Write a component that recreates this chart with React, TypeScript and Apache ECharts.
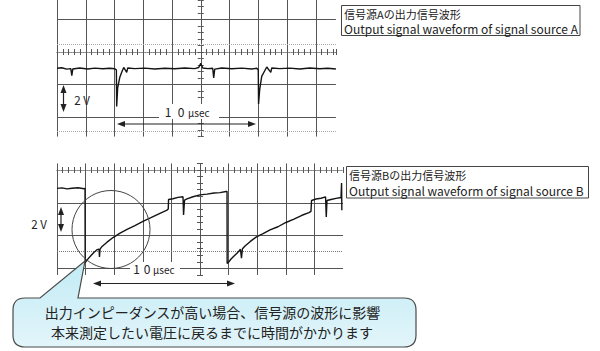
import React, { useEffect, useRef } from "react";
import * as echarts from "echarts";

// Time in µs relative to the screen centre (2 µs/div); voltage in V relative to the centre line (2 V/div)
const traceA: [number, number][] = [
  [-10, -1.0], [-9.67, -0.97], [-9.32, -1.05], [-9.04, -1.02], [-8.97, -1.45], [-8.9, -1.04],
  [-8.42, -0.98], [-7.86, -1.04], [-7.37, -0.99], [-6.82, -1.03], [-6.33, -1.0], [-5.98, -1.03],
  [-5.87, -1.1], [-5.85, -3.35], [-5.78, -2.2], [-5.63, -1.55], [-5.5, -1.25], [-5.36, -0.95],
  [-5.15, -1.25], [-5.08, -0.98], [-4.59, -1.02], [-3.9, -0.99], [-3.2, -1.04], [-2.5, -1.0],
  [-1.81, -1.03], [-1.11, -0.98], [-0.42, -1.02], [-0.14, -0.95], [0, -0.7], [0.14, -0.98],
  [0.49, -1.02], [0.83, -1.0], [0.9, -1.6], [0.97, -1.05], [1.46, -0.98], [2.16, -1.03],
  [2.85, -0.99], [3.55, -1.04], [3.9, -1.0], [4.0, -1.1], [4.02, -3.2], [4.1, -2.3],
  [4.24, -1.5], [4.45, -1.15], [4.59, -0.92], [4.87, -1.25], [4.94, -0.98], [5.5, -1.02],
  [6.19, -0.99], [6.89, -1.04], [7.58, -0.98], [8.28, -1.03], [8.83, -1.0], [9.4, -1.04],
];

const traceB: [number, number][] = [
  [-10, -1.12], [-9.65, -1.09], [-9.3, -1.15], [-8.95, -1.11], [-8.53, -1.08], [-8.11, -1.14], [-8.04, -1.12],
  [-8.03, -5.64], [-7.83, -5.42], [-7.62, -5.21], [-7.41, -5.02], [-7.2, -4.86], [-7.06, -4.82],
  [-7.03, -5.3], [-6.99, -4.83], [-6.85, -4.66], [-6.5, -4.4], [-6.08, -4.12], [-5.59, -3.85],
  [-5.1, -3.62], [-4.55, -3.39], [-3.99, -3.13], [-3.43, -2.91], [-2.8, -2.64], [-2.31, -2.45],
  [-2.22, -2.38], [-2.2, -1.8], [-1.89, -1.75], [-1.54, -1.67], [-1.19, -1.63], [-1.15, -2.74],
  [-1.08, -1.84], [-0.91, -1.76], [-0.49, -1.63], [0, -1.52], [0.49, -1.47], [0.98, -1.4],
  [1.4, -1.38], [1.82, -1.31], [1.89, -1.3],
  [1.9, -5.7], [1.99, -5.63], [2.17, -5.43], [2.38, -5.24], [2.66, -5.01], [2.83, -4.83],
  [2.9, -5.37], [2.97, -4.8], [3.15, -4.63], [3.5, -4.37], [3.92, -4.09], [4.41, -3.88],
  [4.9, -3.65], [5.45, -3.46], [6.01, -3.2], [6.57, -3.0], [7.13, -2.76], [7.62, -2.6],
  [7.76, -2.52], [7.8, -1.86], [8.11, -1.77], [8.46, -1.72], [8.78, -1.64], [8.83, -2.87],
  [8.88, -1.86], [9.16, -1.8], [9.51, -1.73], [9.86, -1.68], [9.9, -0.8], [9.92, -2.45],
];

const gridALevels = [2, -2, -4];
const gridADotted = [0.5, -4.87];
const gridBLevels = [-2, -4, -6];
const gridBDotted = [-4.94];

const titleA = ["信号源Aの出力信号波形", "Output signal waveform of signal source A"];
const titleB = ["信号源Bの出力信号波形", "Output signal waveform of signal source B"];
const calloutLines = [
  "出力インピーダンスが高い場合、信号源の波形に影響",
  "本来測定したい電圧に戻るまでに時間がかかります",
];
const voltLabel = "2 V";
const timeDigits = ["1", "0"];
const timeUnit = "μsec";

const CALLOUT_D =
  "M25,298 L40,298 L85,261 L78,298 L404,298 Q416,298 416,310 L416,335 Q416,347 404,347 L25,347 Q13,347 13,335 L13,310 Q13,298 25,298 Z";
echarts.graphic.registerShape("callout", echarts.graphic.extendPath(CALLOUT_D, {}));

const INK = "#222";
const GRID = "#555";
const CJK = '"Noto Sans CJK JP", "Noto Sans", sans-serif';

function txt(x: number, y: number, text: string, size: number, align = "left", lineHeight?: number) {
  return {
    type: "text",
    z: 60,
    x,
    y,
    style: {
      text,
      font: `${size}px ${CJK}`,
      lineHeight: lineHeight ?? Math.round(size + 1),
      fill: INK,
      align,
      textAlign: align,
      verticalAlign: "middle",
      textVerticalAlign: "middle",
    },
  };
}

function hArrow(x1: number, x2: number, y: number) {
  return [
    { type: "line", z: 50, shape: { x1: x1 + 5, y1: y, x2: x2 - 5, y2: y }, style: { stroke: INK, lineWidth: 1.2 } },
    { type: "polygon", z: 50, shape: { points: [[x1, y], [x1 + 8, y - 3], [x1 + 8, y + 3]] }, style: { fill: INK } },
    { type: "polygon", z: 50, shape: { points: [[x2, y], [x2 - 8, y - 3], [x2 - 8, y + 3]] }, style: { fill: INK } },
  ];
}

function vArrow(x: number, y1: number, y2: number) {
  return [
    { type: "line", z: 50, shape: { x1: x, y1: y1 + 5, x2: x, y2: y2 - 5 }, style: { stroke: INK, lineWidth: 1.2 } },
    { type: "polygon", z: 50, shape: { points: [[x, y1], [x - 3, y1 + 8], [x + 3, y1 + 8]] }, style: { fill: INK } },
    { type: "polygon", z: 50, shape: { points: [[x, y2], [x - 3, y2 - 8], [x + 3, y2 - 8]] }, style: { fill: INK } },
  ];
}

function xAxis(gridIndex: number, max: number, onZeroY: number, position: string, split: boolean) {
  return {
    type: "value",
    gridIndex,
    position,
    min: -10,
    max,
    interval: 2,
    axisLine: { show: true, onZero: true, onZeroAxisIndex: onZeroY, lineStyle: { color: "#8a8a8a", type: "dotted", width: 1 } },
    axisTick: { show: true, length: 3, lineStyle: { color: GRID, width: 1 } },
    minorTick: { show: true, splitNumber: 5, length: 3, lineStyle: { color: GRID, width: 1 } },
    axisLabel: { show: false },
    splitLine: { show: split, showMaxLine: false, lineStyle: { color: GRID, width: 1 } },
  };
}

function yAxis(gridIndex: number, min: number, max: number, onZeroX: number, position: string) {
  return {
    type: "value",
    gridIndex,
    position,
    min,
    max,
    interval: 0.4,
    axisLine: { show: true, onZero: true, onZeroAxisIndex: onZeroX, lineStyle: { color: GRID, width: 1 } },
    axisTick: { show: true, length: 3, lineStyle: { color: GRID, width: 1 } },
    axisLabel: { show: false },
    splitLine: { show: false },
  };
}

function levelLines(solid: number[], dotted: number[], dotColor: string) {
  return {
    symbol: ["none", "none"],
    silent: true,
    label: { show: false },
    emphasis: { disabled: true },
    lineStyle: { color: GRID, width: 1, type: "solid" },
    data: [
      ...solid.map((v) => ({ yAxis: v })),
      ...dotted.map((v) => ({ yAxis: v, lineStyle: { color: dotColor, type: "dotted", width: 1 } })),
    ],
  };
}

export default function App() {
  const ref = useRef<HTMLDivElement>(null);
  useEffect(() => {
    if (!ref.current) return;
    const chart = echarts.init(ref.current, undefined, { renderer: "svg" });

    const graphic: any[] = [
      // title box A
      { type: "rect", z: 40, shape: { x: 341.5, y: 5.5, width: 238.5, height: 30 }, style: { fill: "#fff", stroke: "#444", lineWidth: 1 } },
      txt(344, 13.5, titleA[0], 11),
      txt(344, 28.5, titleA[1], 12),
      // title box B
      { type: "rect", z: 40, shape: { x: 346.5, y: 166.5, width: 242, height: 31.5 }, style: { fill: "#fff", stroke: "#444", lineWidth: 1 } },
      txt(349, 174.5, titleB[0], 11),
      txt(349, 190, titleB[1], 12),
      // top scope annotations
      ...vArrow(63.5, 85, 112),
      txt(82, 99.5, voltLabel, 11.5, "center"),
      { type: "rect", z: 45, shape: { x: 159, y: 104, width: 60, height: 15 }, style: { fill: "#fff" } },
      txt(168, 111.5, timeDigits[0], 12, "center"),
      txt(181, 111.5, timeDigits[1], 12, "center"),
      txt(188, 112, timeUnit, 10),
      ...hArrow(117, 256, 124),
      // bottom scope annotations
      ...vArrow(61, 207, 232),
      txt(39, 224, voltLabel, 11.5, "center"),
      { type: "rect", z: 45, shape: { x: 130, y: 262, width: 50, height: 13 }, style: { fill: "#fff" } },
      txt(136.5, 268.5, timeDigits[0], 12, "center"),
      txt(147, 268.5, timeDigits[1], 12, "center"),
      txt(153, 269, timeUnit, 10),
      ...hArrow(93, 235, 283.5),
      { type: "circle", z: 55, shape: { cx: 111, cy: 229.5, r: 39 }, style: { fill: "none", stroke: "#444", lineWidth: 1 } },
      // callout
      {
        type: "callout",
        z: 70,
        x: 0,
        y: 0,
        scaleX: 1,
        scaleY: 1,
        style: {
          fill: new echarts.graphic.LinearGradient(0, 0, 0, 1, [
            { offset: 0, color: "#c2ebf5" },
            { offset: 1, color: "#e2f5fa" },
          ]),
          stroke: "#4a4a4a",
          lineWidth: 1.2,
        },
      },
      { ...txt(212.5, 311.5, calloutLines[0], 14, "center"), z: 80 },
      { ...txt(212, 332, calloutLines[1], 14, "center"), z: 80 },
    ];

    chart.setOption({
      animation: false,
      backgroundColor: "#fff",
      grid: [
        { left: 57, top: -1.18, width: 278.9, height: 137.76 },
        { left: 57, top: 163.44, width: 286, height: 111.52 },
      ],
      xAxis: [
        xAxis(0, 9.4, 0, "bottom", true),
        xAxis(0, 9.4, 0, "top", false),
        xAxis(1, 10, 2, "bottom", true),
        xAxis(1, 10, 2, "top", false),
      ],
      yAxis: [
        yAxis(0, -5.2, 3.2, 0, "left"),
        yAxis(0, -5.2, 3.2, 0, "right"),
        yAxis(1, -6.4, 0.4, 2, "left"),
        yAxis(1, -6.4, 0.4, 2, "right"),
      ],
      series: [
        {
          type: "line",
          xAxisIndex: 0,
          yAxisIndex: 0,
          data: traceA,
          symbol: "none",
          silent: true,
          z: 5,
          lineStyle: { color: "#141414", width: 1.4 },
          markLine: levelLines(gridALevels, gridADotted, "#aaa"),
        },
        {
          type: "line",
          xAxisIndex: 2,
          yAxisIndex: 2,
          data: traceB,
          symbol: "none",
          silent: true,
          z: 5,
          lineStyle: { color: "#141414", width: 1.4 },
          markLine: levelLines(gridBLevels, gridBDotted, "#777"),
        },
      ],
      graphic,
    });
    return () => chart.dispose();
  }, []);
  return <div ref={ref} style={{ position: "fixed", left: 0, top: 0, width: 600, height: 351 }} />;
}
